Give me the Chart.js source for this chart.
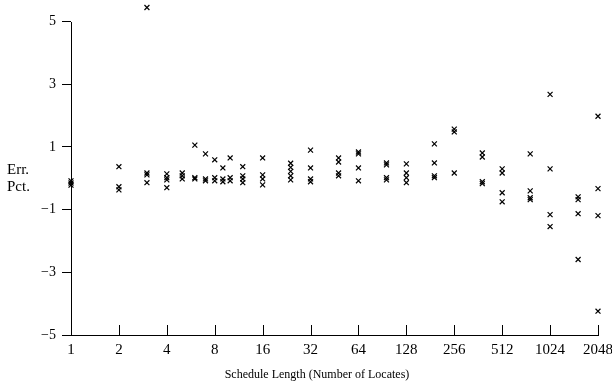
<!DOCTYPE html>
<html>
<head>
<meta charset="utf-8">
<script src="https://cdn.jsdelivr.net/npm/chart.js@4/dist/chart.umd.min.js"></script>
<style>
	html, body { margin: 0; padding: 0; background: #fff; }
	#wrap { width: 612px; height: 386px; }
</style>
</head>
<body>
<div id="wrap"><canvas id="grafico" width="612" height="386"></canvas></div>
<script>
// Schedule lengths (x) and the error percentages measured at each one
const comprimentos = [1, 2, 3, 4, 5, 6, 7, 8, 9, 10, 12, 16, 24, 32, 48, 64, 96, 128, 192, 256, 384, 512, 768, 1024, 1536, 2048];

const errosPct = [
	[-0.08, -0.15, -0.22],
	[0.37, -0.27, -0.37],
	[5.45, 0.17, 0.11, -0.14],
	[0.14, 0.02, -0.05, -0.3],
	[0.17, 0.08, -0.02],
	[1.06, 0.02, -0.02],
	[0.78, -0.02, -0.08],
	[0.59, 0.02, -0.08],
	[0.33, -0.02, -0.11],
	[0.65, 0.02, -0.08],
	[0.37, 0.08, -0.02, -0.14],
	[0.65, 0.11, -0.02, -0.21],
	[0.48, 0.35, 0.22, 0.08, -0.05],
	[0.9, 0.33, -0.02, -0.11],
	[0.65, 0.52, 0.17, 0.08],
	[0.84, 0.78, 0.33, -0.08],
	[0.49, 0.43, 0.02, -0.05],
	[0.46, 0.17, 0.02, -0.14],
	[1.1, 0.49, 0.08, 0.02],
	[1.57, 1.48, 0.17],
	[0.81, 0.68, -0.11, -0.17],
	[0.3, 0.17, -0.46, -0.75],
	[0.78, -0.4, -0.62, -0.68],
	[2.68, 0.3, -1.16, -1.54],
	[-0.59, -0.68, -1.13, -2.59],
	[1.98, -0.33, -1.19, -4.24],
];

const ticksX = [1, 2, 4, 8, 16, 32, 64, 128, 256, 512, 1024, 2048];
const ticksY = [-5, -3, -1, 1, 3, 5];

const tituloX = "Schedule Length (Number of Locates)";
const tituloY = ["Err.", "Pct."];

const fonte = "'Liberation Serif', 'DejaVu Serif', serif";

let pontos = [];
for (let i = 0; i < comprimentos.length; i++) {
	for (let j = 0; j < errosPct[i].length; j++) {
		pontos.push({ x: comprimentos[i], y: errosPct[i][j] });
	}
}

// y axis line stops at 5 (the scale goes a bit higher so the outlier shows),
// x ticks point up into the plot, and the y label sits flat on the left
const extras = {
	id: "extras",
	afterDraw(chart) {
		const ctx = chart.ctx;
		const sx = chart.scales.x;
		const sy = chart.scales.y;
		const area = chart.chartArea;
		ctx.save();
		ctx.strokeStyle = "#000";
		ctx.lineWidth = 1;

		const ex = Math.round(area.left) + 0.5;
		ctx.beginPath();
		ctx.moveTo(ex, Math.round(sy.getPixelForValue(ticksY[ticksY.length - 1])));
		ctx.lineTo(ex, area.bottom);
		ctx.stroke();

		for (let i = 0; i < sx.ticks.length; i++) {
			const px = Math.round(sx.getPixelForValue(sx.ticks[i].value)) + 0.5;
			ctx.beginPath();
			ctx.moveTo(px, area.bottom);
			ctx.lineTo(px, area.bottom - 10);
			ctx.stroke();
		}

		ctx.fillStyle = "#000";
		ctx.font = "15px " + fonte;
		ctx.textBaseline = "middle";
		ctx.textAlign = "left";
		ctx.fillText(tituloY[0], 7, 170);
		ctx.fillText(tituloY[1], 7, 187);
		ctx.font = "12px " + fonte;
		ctx.textAlign = "center";
		ctx.fillText(tituloX, 317, 375);
		ctx.restore();
	},
};

const config = {
	type: "scatter",
	data: {
		datasets: [
			{
				data: pontos,
				pointStyle: "crossRot",
				pointRadius: 3.5,
				pointHoverRadius: 3.5,
				borderColor: "#000",
				backgroundColor: "#000",
				borderWidth: 1.2,
				clip: false,
			},
		],
	},
	options: {
		responsive: false,
		animation: false,
		layout: { padding: { left: 0, right: 14, top: 1, bottom: 0 } },
		plugins: {
			legend: { display: false },
			tooltip: { enabled: false },
		},
		scales: {
			x: {
				type: "logarithmic",
				min: 1,
				max: 2048,
				afterBuildTicks: (scale) => {
					scale.ticks = ticksX.map((v) => ({ value: v }));
				},
				afterFit: (scale) => {
					scale.height = 51;
					scale.paddingLeft = 0;
					scale.paddingRight = 0;
				},
				border: { display: true, color: "#000", width: 1 },
				grid: { display: false },
				ticks: {
					autoSkip: false,
					maxRotation: 0,
					padding: -2,
					color: "#000",
					font: { family: fonte, size: 15 },
					callback: (v) => String(v),
				},
			},
			y: {
				min: -5,
				max: 5.54,
				afterBuildTicks: (scale) => {
					scale.ticks = ticksY.map((v) => ({ value: v }));
				},
				afterFit: (scale) => {
					scale.width = 71;
					scale.paddingTop = 0;
					scale.paddingBottom = 0;
				},
				border: { display: false },
				grid: {
					drawOnChartArea: false,
					drawTicks: true,
					tickLength: 9,
					color: "#000",
				},
				ticks: {
					padding: 6,
					color: "#000",
					font: { family: fonte, size: 14 },
					callback: (v) => String(v).replace("-", "\u2212"),
				},
			},
		},
	},
	plugins: [extras],
};

const grafico = new Chart(document.getElementById("grafico"), config);
</script>
</body>
</html>
